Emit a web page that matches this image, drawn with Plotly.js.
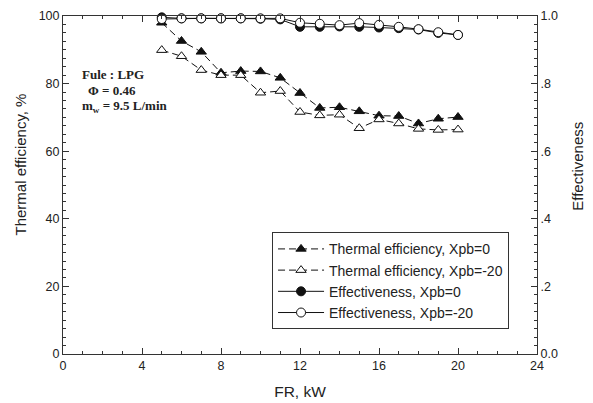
<!DOCTYPE html>
<html>
<head>
<meta charset="utf-8">
<script src="https://cdn.plot.ly/plotly-3.0.1.min.js"></script>
<style>html,body{margin:0;padding:0;background:#fff}#chart{width:593px;height:403px}</style>
</head>
<body>
<div id="chart"></div>
<script>
const fr = [5,6,7,8,9,10,11,12,13,14,15,16,17,18,19,20];
const thermalXpb0 = [98,92.6,89.4,83.2,83.7,83.6,81.7,77.2,72.8,73.0,71.8,70.5,70.4,68.2,69.6,70.1];
const thermalXpb20 = [89.9,88.1,84.0,82.5,82.5,77.3,77.8,71.6,70.6,70.8,66.8,69.4,68.2,66.6,66.3,66.4];
const effXpb0 = [0.996,0.993,0.993,0.993,0.993,0.992,0.990,0.968,0.968,0.969,0.968,0.966,0.964,0.960,0.950,0.944];
const effXpb20 = [0.991,0.993,0.993,0.993,0.993,0.993,0.993,0.980,0.977,0.973,0.979,0.974,0.968,0.961,0.952,0.944];
const xTicks = [0,4,8,12,16,20,24];
const yTicks = [0,20,40,60,80,100];
const y2Ticks = [0,0.2,0.4,0.6,0.8,1.0];
const y2TickText = ['0.0','.2','.4','.6','.8','1.0'];

const SANS = 'Liberation Sans, Arial, sans-serif';
const SERIF = 'Liberation Serif, Times New Roman, serif';
const font = {family:SANS, size:12.5, color:'#222'};
const traces = [
  {x:fr, y:thermalXpb0, name:'Thermal efficiency, Xpb=0', mode:'lines+markers', yaxis:'y',
   line:{color:'#111', width:1, dash:'7px,4px'},
   marker:{symbol:'triangle-up', size:9, color:'#111', line:{color:'#111', width:1}}, cliponaxis:false},
  {x:fr, y:thermalXpb20, name:'Thermal efficiency, Xpb=-20', mode:'lines+markers', yaxis:'y',
   line:{color:'#111', width:1, dash:'7px,4px'},
   marker:{symbol:'triangle-up', size:9, color:'#fff', line:{color:'#111', width:1}}, cliponaxis:false},
  {x:fr, y:effXpb0, name:'Effectiveness, Xpb=0', mode:'lines+markers', yaxis:'y2',
   line:{color:'#111', width:1},
   marker:{symbol:'circle', size:9, color:'#111', line:{color:'#111', width:1}}, cliponaxis:false},
  {x:fr, y:effXpb20, name:'Effectiveness, Xpb=-20', mode:'lines+markers', yaxis:'y2',
   line:{color:'#111', width:1},
   marker:{symbol:'circle', size:9, color:'#fff', line:{color:'#111', width:1}}, cliponaxis:false}
];
const axisCommon = {showgrid:false, zeroline:false, showline:true, linecolor:'#333', linewidth:1,
  ticks:'inside', ticklen:6, tickcolor:'#333', tickfont:font};
const layout = {
  width:593, height:403,
  margin:{l:63, r:56, t:16, b:49},
  paper_bgcolor:'#fff', plot_bgcolor:'#fff',
  font:font,
  showlegend:true,
  legend:{x:0.441, y:0.36, xanchor:'left', yanchor:'top', bordercolor:'#333', borderwidth:1,
    bgcolor:'#fff', font:{family:SANS, size:14, color:'#222'},
    tracegroupgap:0, itemwidth:46},
  xaxis: Object.assign({}, axisCommon, {range:[0,24], tickvals:xTicks, mirror:'ticks',
    minor:{dtick:1, ticks:'inside', ticklen:3, tickcolor:'#333'},
    title:{text:'FR, kW', font:{family:SANS, size:15.5, color:'#222'}, standoff:14}}),
  yaxis: Object.assign({}, axisCommon, {range:[0,100], tickvals:yTicks,
    minor:{dtick:2.5, ticks:'inside', ticklen:3, tickcolor:'#333'}}),
  yaxis2: Object.assign({}, axisCommon, {range:[0,1], overlaying:'y', side:'right', tickvals:y2Ticks, ticktext:y2TickText,
    minor:{dtick:0.025, ticks:'inside', ticklen:3, tickcolor:'#333'}}),
  annotations:[
    {xref:'paper', yref:'paper', x:-0.089, y:0.56, xanchor:'center', yanchor:'middle', showarrow:false, textangle:-90,
     text:'Thermal efficiency, %', font:{family:SANS, size:15, color:'#222'}},
    {xref:'paper', yref:'paper', x:1.085, y:0.555, xanchor:'center', yanchor:'middle', showarrow:false, textangle:-90,
     text:'Effectiveness', font:{family:SANS, size:15, color:'#222'}},
    {xref:'paper', yref:'paper', x:0.036, y:0.827, xanchor:'left', yanchor:'middle', showarrow:false,
     text:'<b>Fule : LPG</b>', font:{family:SERIF, size:13, color:'#222'}},
    {xref:'paper', yref:'paper', x:0.048, y:0.780, xanchor:'left', yanchor:'middle', showarrow:false,
     text:'<b>Φ = 0.46</b>', font:{family:SERIF, size:13, color:'#222'}},
    {xref:'paper', yref:'paper', x:0.036, y:0.733, xanchor:'left', yanchor:'middle', showarrow:false,
     text:'<b>m<sub>w</sub> = 9.5 L/min</b>', font:{family:SERIF, size:13, color:'#222'}}
  ]
};
Plotly.newPlot('chart', traces, layout, {displayModeBar:false, staticPlot:true});
</script>
</body>
</html>
